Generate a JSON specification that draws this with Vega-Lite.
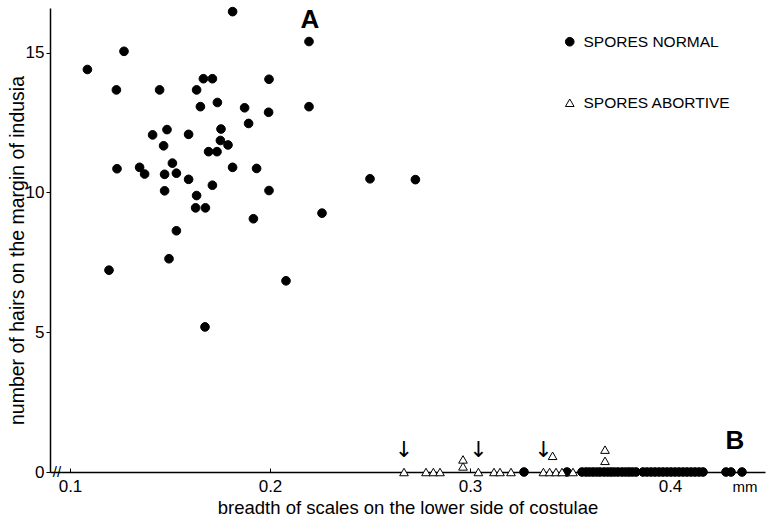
{
  "$schema": "https://vega.github.io/schema/vega-lite/v6.json",
  "width": 715,
  "height": 464,
  "autosize": {"type": "none"},
  "padding": {"left": 50, "top": 8, "right": 1, "bottom": 46},
  "config": {
    "view": {"stroke": null},
    "font": "Liberation Sans",
    "axis": {"domainColor": "black", "domainWidth": 1.5, "tickColor": "black", "labelColor": "black", "titleColor": "black", "grid": false, "labelFont": "Liberation Sans", "titleFont": "Liberation Sans", "titleFontWeight": "normal"},
    "legend": {"title": null, "orient": "none", "legendX": 512, "legendY": 26, "padding": 0, "labelFontSize": 15.5, "labelOffset": 6, "rowPadding": 44, "symbolSize": 75, "symbolStrokeWidth": 1, "labelColor": "black", "labelFont": "Liberation Sans"}
  },
  "datasets": {
    "points": [
      {"x": 0.1813, "y": 16.47, "type": "SPORES NORMAL"},
      {"x": 0.127, "y": 15.05, "type": "SPORES NORMAL"},
      {"x": 0.1087, "y": 14.4, "type": "SPORES NORMAL"},
      {"x": 0.1232, "y": 13.67, "type": "SPORES NORMAL"},
      {"x": 0.1448, "y": 13.67, "type": "SPORES NORMAL"},
      {"x": 0.1633, "y": 13.67, "type": "SPORES NORMAL"},
      {"x": 0.1667, "y": 14.07, "type": "SPORES NORMAL"},
      {"x": 0.1712, "y": 14.07, "type": "SPORES NORMAL"},
      {"x": 0.1652, "y": 13.07, "type": "SPORES NORMAL"},
      {"x": 0.1737, "y": 13.22, "type": "SPORES NORMAL"},
      {"x": 0.1413, "y": 12.06, "type": "SPORES NORMAL"},
      {"x": 0.1485, "y": 12.25, "type": "SPORES NORMAL"},
      {"x": 0.1593, "y": 12.08, "type": "SPORES NORMAL"},
      {"x": 0.1755, "y": 12.27, "type": "SPORES NORMAL"},
      {"x": 0.1752, "y": 11.86, "type": "SPORES NORMAL"},
      {"x": 0.179, "y": 11.7, "type": "SPORES NORMAL"},
      {"x": 0.1468, "y": 11.67, "type": "SPORES NORMAL"},
      {"x": 0.1693, "y": 11.46, "type": "SPORES NORMAL"},
      {"x": 0.1735, "y": 11.46, "type": "SPORES NORMAL"},
      {"x": 0.1235, "y": 10.85, "type": "SPORES NORMAL"},
      {"x": 0.1348, "y": 10.9, "type": "SPORES NORMAL"},
      {"x": 0.1373, "y": 10.66, "type": "SPORES NORMAL"},
      {"x": 0.1512, "y": 11.05, "type": "SPORES NORMAL"},
      {"x": 0.1473, "y": 10.65, "type": "SPORES NORMAL"},
      {"x": 0.1532, "y": 10.69, "type": "SPORES NORMAL"},
      {"x": 0.1593, "y": 10.47, "type": "SPORES NORMAL"},
      {"x": 0.1813, "y": 10.9, "type": "SPORES NORMAL"},
      {"x": 0.1712, "y": 10.26, "type": "SPORES NORMAL"},
      {"x": 0.1473, "y": 10.06, "type": "SPORES NORMAL"},
      {"x": 0.1633, "y": 9.89, "type": "SPORES NORMAL"},
      {"x": 0.1873, "y": 13.03, "type": "SPORES NORMAL"},
      {"x": 0.1993, "y": 12.87, "type": "SPORES NORMAL"},
      {"x": 0.2195, "y": 13.07, "type": "SPORES NORMAL"},
      {"x": 0.1893, "y": 12.47, "type": "SPORES NORMAL"},
      {"x": 0.1933, "y": 10.86, "type": "SPORES NORMAL"},
      {"x": 0.1995, "y": 10.07, "type": "SPORES NORMAL"},
      {"x": 0.1628, "y": 9.45, "type": "SPORES NORMAL"},
      {"x": 0.1677, "y": 9.45, "type": "SPORES NORMAL"},
      {"x": 0.1917, "y": 9.06, "type": "SPORES NORMAL"},
      {"x": 0.226, "y": 9.26, "type": "SPORES NORMAL"},
      {"x": 0.1532, "y": 8.63, "type": "SPORES NORMAL"},
      {"x": 0.1495, "y": 7.63, "type": "SPORES NORMAL"},
      {"x": 0.1195, "y": 7.22, "type": "SPORES NORMAL"},
      {"x": 0.208, "y": 6.84, "type": "SPORES NORMAL"},
      {"x": 0.1675, "y": 5.19, "type": "SPORES NORMAL"},
      {"x": 0.1995, "y": 14.05, "type": "SPORES NORMAL"},
      {"x": 0.2195, "y": 15.4, "type": "SPORES NORMAL"},
      {"x": 0.25, "y": 10.49, "type": "SPORES NORMAL"},
      {"x": 0.2727, "y": 10.46, "type": "SPORES NORMAL"},
      {"x": 0.327, "y": 0, "type": "SPORES NORMAL"},
      {"x": 0.3485, "y": 0, "type": "SPORES NORMAL"},
      {"x": 0.356, "y": 0, "type": "SPORES NORMAL"},
      {"x": 0.358, "y": 0, "type": "SPORES NORMAL"},
      {"x": 0.3597, "y": 0, "type": "SPORES NORMAL"},
      {"x": 0.3615, "y": 0, "type": "SPORES NORMAL"},
      {"x": 0.3633, "y": 0, "type": "SPORES NORMAL"},
      {"x": 0.365, "y": 0, "type": "SPORES NORMAL"},
      {"x": 0.367, "y": 0, "type": "SPORES NORMAL"},
      {"x": 0.3688, "y": 0, "type": "SPORES NORMAL"},
      {"x": 0.3705, "y": 0, "type": "SPORES NORMAL"},
      {"x": 0.3722, "y": 0, "type": "SPORES NORMAL"},
      {"x": 0.374, "y": 0, "type": "SPORES NORMAL"},
      {"x": 0.376, "y": 0, "type": "SPORES NORMAL"},
      {"x": 0.3778, "y": 0, "type": "SPORES NORMAL"},
      {"x": 0.3795, "y": 0, "type": "SPORES NORMAL"},
      {"x": 0.3812, "y": 0, "type": "SPORES NORMAL"},
      {"x": 0.383, "y": 0, "type": "SPORES NORMAL"},
      {"x": 0.3865, "y": 0, "type": "SPORES NORMAL"},
      {"x": 0.3885, "y": 0, "type": "SPORES NORMAL"},
      {"x": 0.3905, "y": 0, "type": "SPORES NORMAL"},
      {"x": 0.3925, "y": 0, "type": "SPORES NORMAL"},
      {"x": 0.3945, "y": 0, "type": "SPORES NORMAL"},
      {"x": 0.3965, "y": 0, "type": "SPORES NORMAL"},
      {"x": 0.3985, "y": 0, "type": "SPORES NORMAL"},
      {"x": 0.4005, "y": 0, "type": "SPORES NORMAL"},
      {"x": 0.4025, "y": 0, "type": "SPORES NORMAL"},
      {"x": 0.4045, "y": 0, "type": "SPORES NORMAL"},
      {"x": 0.4065, "y": 0, "type": "SPORES NORMAL"},
      {"x": 0.4085, "y": 0, "type": "SPORES NORMAL"},
      {"x": 0.4105, "y": 0, "type": "SPORES NORMAL"},
      {"x": 0.4125, "y": 0, "type": "SPORES NORMAL"},
      {"x": 0.4145, "y": 0, "type": "SPORES NORMAL"},
      {"x": 0.4165, "y": 0, "type": "SPORES NORMAL"},
      {"x": 0.428, "y": 0, "type": "SPORES NORMAL"},
      {"x": 0.4305, "y": 0, "type": "SPORES NORMAL"},
      {"x": 0.436, "y": 0, "type": "SPORES NORMAL"},
      {"x": 0.267, "y": 0, "type": "SPORES ABORTIVE"},
      {"x": 0.278, "y": 0, "type": "SPORES ABORTIVE"},
      {"x": 0.2817, "y": 0, "type": "SPORES ABORTIVE"},
      {"x": 0.285, "y": 0, "type": "SPORES ABORTIVE"},
      {"x": 0.2965, "y": 0.2, "type": "SPORES ABORTIVE"},
      {"x": 0.2965, "y": 0.45, "type": "SPORES ABORTIVE"},
      {"x": 0.3042, "y": 0, "type": "SPORES ABORTIVE"},
      {"x": 0.312, "y": 0, "type": "SPORES ABORTIVE"},
      {"x": 0.315, "y": 0, "type": "SPORES ABORTIVE"},
      {"x": 0.3205, "y": 0, "type": "SPORES ABORTIVE"},
      {"x": 0.3367, "y": 0, "type": "SPORES ABORTIVE"},
      {"x": 0.3398, "y": 0, "type": "SPORES ABORTIVE"},
      {"x": 0.343, "y": 0, "type": "SPORES ABORTIVE"},
      {"x": 0.346, "y": 0, "type": "SPORES ABORTIVE"},
      {"x": 0.3413, "y": 0.58, "type": "SPORES ABORTIVE"},
      {"x": 0.3515, "y": 0, "type": "SPORES ABORTIVE"},
      {"x": 0.3675, "y": 0.4, "type": "SPORES ABORTIVE"},
      {"x": 0.3675, "y": 0.8, "type": "SPORES ABORTIVE"}
    ],
    "arrows": [
      {"x": 0.267, "y": 0.8, "text": "↓"},
      {"x": 0.3042, "y": 0.8, "text": "↓"},
      {"x": 0.3367, "y": 0.8, "text": "↓"}
    ],
    "panelLabels": [
      {"x": 0.22, "y": 16.17, "text": "A"},
      {"x": 0.4325, "y": 1.11, "text": "B"}
    ],
    "notes": [
      {"x": 0.4375, "y": -0.55, "text": "mm"},
      {"x": 0.0935, "y": 0, "text": "//"}
    ]
  },
  "layer": [
    {
      "data": {"name": "points"},
      "mark": {"type": "point", "opacity": 1, "strokeWidth": 1, "size": 75},
      "encoding": {
        "x": {"field": "x", "type": "quantitative", "scale": {"domain": [0.09, 0.4475], "nice": false, "zero": false},
          "axis": {"title": "breadth of scales on the lower side of costulae", "values": [0.1, 0.2, 0.3, 0.4], "format": ".1f", "tickSize": -4, "labelPadding": 10, "labelFontSize": 17, "titleFontSize": 18.5, "titleY": 26, "titleBaseline": "top"}},
        "y": {"field": "y", "type": "quantitative", "scale": {"domain": [0, 16.6], "nice": false, "zero": false},
          "axis": {"title": "number of hairs on the margin of indusia", "values": [0, 5, 10, 15], "tickSize": 4, "labelPadding": 2, "labelFontSize": 17, "titleFontSize": 19.5, "titleX": -33, "titleY": 242, "titleBaseline": "middle"}},
        "shape": {"field": "type", "type": "nominal", "scale": {"domain": ["SPORES NORMAL", "SPORES ABORTIVE"], "range": ["circle", "triangle-up"]}},
        "fill": {"field": "type", "type": "nominal", "scale": {"domain": ["SPORES NORMAL", "SPORES ABORTIVE"], "range": ["black", "white"]}},
        "stroke": {"field": "type", "type": "nominal", "scale": {"domain": ["SPORES NORMAL", "SPORES ABORTIVE"], "range": ["black", "black"]}}
      }
    },
    {
      "data": {"name": "arrows"},
      "mark": {"type": "text", "font": "DejaVu Sans", "fontSize": 22, "baseline": "middle", "align": "center", "color": "black"},
      "encoding": {
        "x": {"field": "x", "type": "quantitative"},
        "y": {"field": "y", "type": "quantitative"},
        "text": {"field": "text"}
      }
    },
    {
      "data": {"name": "panelLabels"},
      "mark": {"type": "text", "font": "Liberation Sans", "fontSize": 26, "fontWeight": "bold", "baseline": "middle", "align": "center", "color": "black"},
      "encoding": {
        "x": {"field": "x", "type": "quantitative"},
        "y": {"field": "y", "type": "quantitative"},
        "text": {"field": "text"}
      }
    },
    {
      "data": {"name": "notes"},
      "mark": {"type": "text", "font": "Liberation Sans", "fontSize": 15, "baseline": "middle", "align": "center", "color": "black"},
      "encoding": {
        "x": {"field": "x", "type": "quantitative"},
        "y": {"field": "y", "type": "quantitative"},
        "text": {"field": "text"}
      }
    }
  ]
}
